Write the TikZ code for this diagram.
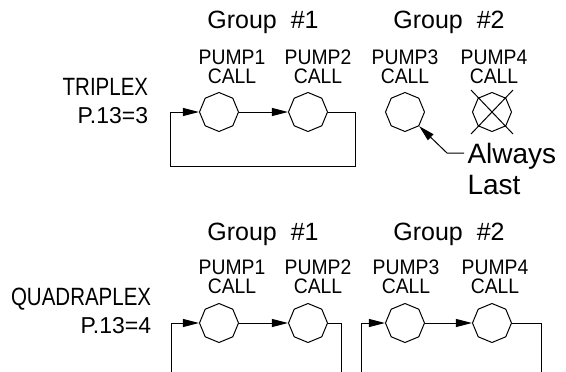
\documentclass[tikz,border=0pt]{standalone}
\usepackage{fontspec}
\setmainfont{Liberation Sans}
\newfontfamily\pumpfont{Liberation Sans}[FakeStretch=0.92]
\newfontfamily\modefont{Liberation Sans}[FakeStretch=0.82]
\usetikzlibrary{shapes.geometric,arrows.meta}

\begin{document}
\begin{tikzpicture}[x=1pt, y=-1pt, line width=1pt,
    pump/.style={regular polygon, regular polygon sides=8, shape border rotate=22.5, draw, minimum size=39pt, inner sep=0pt},
    grp/.style={anchor=base, font=\fontsize{25}{25}\selectfont},
    call/.style={align=center, font=\pumpfont\fontsize{21}{19}\selectfont},
    mode/.style={anchor=base east, font=\modefont\fontsize{25}{25}\selectfont},
    param/.style={anchor=base east, font=\fontsize{23}{23}\selectfont},
    flow/.style={-{Triangle[length=16pt,width=8pt]}}]
\useasboundingbox (0,0) rectangle (566,372);

\node[grp] (G1t) at (263,28) {Group\ \ \#1};
\node[grp] (G2t) at (449,28) {Group\ \ \#2};
\node[call] (C1t) at (232,67) {PUMP1\\CALL};
\node[call] (C2t) at (318,67) {PUMP2\\CALL};
\node[call] (C3t) at (405,67) {PUMP3\\CALL};
\node[call] (C4t) at (494,67) {PUMP4\\CALL};
\node[mode] (Mt) at (152,95) {TRIPLEX};
\node[param] (Pt) at (152,123) {P.13=3};

\node[pump] (P1t) at (219,112) {};
\node[pump] (P2t) at (308,112) {};
\node[pump] (P3t) at (405,112) {};
\node[pump] (P4t) at (492,112) {};
\draw (P4t.center) ++(-21,-22) -- ++(42,44);
\draw (P4t.center) ++(21,-22) -- ++(-42,44);

\coordinate (la) at (170,112);
\coordinate (lb) at (170,166);
\coordinate (lc) at (355,166);
\coordinate (ld) at (355,112);
\draw[flow] (P2t.east) -- (ld) -- (lc) -- (lb) -- (la) -- (P1t.west);
\draw[flow] (P1t.east) -- (P2t.west);

\coordinate (ta) at (464,153);
\coordinate (tb) at (447,153);
\draw[flow] (ta) -- (tb) -- (P3t.-45);
\node[anchor=north west, inner sep=0pt, align=left, font=\fontsize{28}{31}\selectfont] (Al) at (467,143) {Always\\Last};

\node[grp] (G1b) at (263,240) {Group\ \ \#1};
\node[grp] (G2b) at (449,240) {Group\ \ \#2};
\node[call] (C1b) at (232,277) {PUMP1\\CALL};
\node[call] (C2b) at (318,277) {PUMP2\\CALL};
\node[call] (C3b) at (406,277) {PUMP3\\CALL};
\node[call] (C4b) at (495,277) {PUMP4\\CALL};
\node[mode] (Mb) at (155,305) {QUADRAPLEX};
\node[param] (Pb) at (155,333) {P.13=4};

\node[pump] (P1b) at (219,323) {};
\node[pump] (P2b) at (308,323) {};
\node[pump] (P3b) at (405,323) {};
\node[pump] (P4b) at (492,323) {};

\coordinate (qa) at (171,372);
\coordinate (qb) at (341,372);
\coordinate (qc) at (361,372);
\coordinate (qd) at (541,372);
\draw[flow] (qa) |- (P1b.west);
\draw[flow] (P1b.east) -- (P2b.west);
\draw (P2b.east) -| (qb);
\draw[flow] (qc) |- (P3b.west);
\draw[flow] (P3b.east) -- (P4b.west);
\draw (P4b.east) -| (qd);
\end{tikzpicture}
\end{document}
